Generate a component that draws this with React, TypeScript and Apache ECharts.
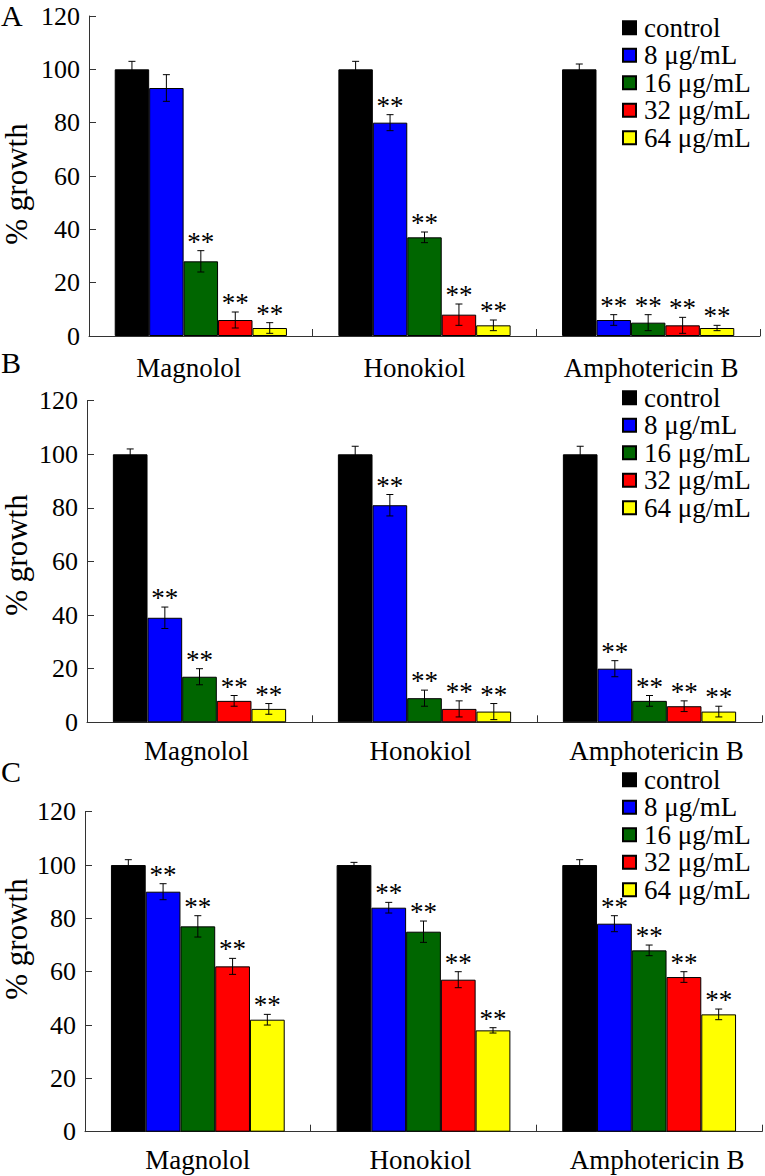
import React, { useEffect, useRef } from 'react';
import * as echarts from 'echarts';

const categories = ['Magnolol', 'Honokiol', 'Amphotericin B'];
const seriesNames = ['control', '8 μg/mL', '16 μg/mL', '32 μg/mL', '64 μg/mL'];
const seriesColors = ['#000000', '#0000FF', '#006600', '#FF0000', '#FFFF00'];
const yTicks = { min: 0, max: 120, interval: 20 };
const panelLetters = ['A', 'B', 'C'];

// Panel A: rows = series (control, 8, 16, 32, 64), columns = categories
const valuesA = [
  [100, 100, 100],
  [93, 80, 6],
  [28, 37, 5],
  [6, 8, 4],
  [3, 4, 3],
];
const errorsA = [
  [3, 3, 2],
  [5, 3, 2],
  [4, 2, 3],
  [3, 4, 3],
  [2, 2, 1],
];
const starsA = [
  [0, 0, 0],
  [0, 1, 1],
  [1, 1, 1],
  [1, 1, 1],
  [1, 1, 1],
];

// Panel B
const valuesB = [
  [100, 100, 100],
  [39, 81, 20],
  [17, 9, 8],
  [8, 5, 6],
  [5, 4, 4],
];
const errorsB = [
  [2, 3, 3],
  [4, 4, 3],
  [3, 3, 2],
  [2, 3, 2],
  [2, 3, 2],
];
const starsB = [
  [0, 0, 0],
  [1, 1, 1],
  [1, 1, 1],
  [1, 1, 1],
  [1, 1, 1],
];

// Panel C
const valuesC = [
  [100, 100, 100],
  [90, 84, 78],
  [77, 75, 68],
  [62, 57, 58],
  [42, 38, 44],
];
const errorsC = [
  [2, 1, 2],
  [3, 2, 3],
  [4, 4, 2],
  [3, 3, 2],
  [2, 1, 2],
];
const starsC = [
  [0, 0, 0],
  [1, 1, 1],
  [1, 1, 1],
  [1, 1, 1],
  [1, 1, 1],
];

const FONT = "'Liberation Serif', 'Times New Roman', serif";
const CAT_GAP = 0.23;
const AXIS_COLOR = '#333';

const grids = [
  { left: 89, right: 5, top: 16, height: 320 },
  { left: 87, right: 3, top: 400.7, height: 321.6 },
  { left: 85, right: 3, top: 811.7, height: 320 },
];
const legendTops = [14, 384, 766];
const nameCenters = [184, 555, 939];
const letterCenters = [15, 362, 771];
// horizontal shift of each category label from its category centre (px)
const labelShifts = [
  [-12, -10, 3],
  [-3, -4, 7],
  [0, -3, 8],
];

function buildOption() {
  const panels = [
    { v: valuesA, e: errorsA, s: starsA },
    { v: valuesB, e: errorsB, s: starsB },
    { v: valuesC, e: errorsC, s: starsC },
  ];
  const xAxis: any[] = [];
  const yAxis: any[] = [];
  const series: any[] = [];
  const legend: any[] = [];
  const graphic: any[] = [];

  panels.forEach((p, pi) => {
    const rich: any = {};
    labelShifts[pi].forEach((s, i) => {
      rich['l' + i] = {
        fontFamily: FONT,
        fontSize: 27,
        color: '#000',
        padding: s < 0 ? [0, -2 * s, 0, 0] : [0, 0, 0, 2 * s],
      };
    });
    xAxis.push({
      type: 'category',
      gridIndex: pi,
      data: categories,
      axisLine: { show: true, lineStyle: { color: AXIS_COLOR, width: 1 } },
      axisTick: { show: true, inside: true, length: 7, alignWithLabel: false, lineStyle: { color: AXIS_COLOR } },
      axisLabel: {
        interval: 0,
        fontFamily: FONT,
        fontSize: 27,
        color: '#000',
        margin: pi === 0 ? 18 : 15,
        formatter: (value: string, index: number) => '{l' + index + '|' + value + '}',
        rich,
      },
      splitLine: { show: false },
    });
    yAxis.push({
      type: 'value',
      gridIndex: pi,
      min: yTicks.min,
      max: yTicks.max,
      interval: yTicks.interval,
      axisLine: { show: true, lineStyle: { color: AXIS_COLOR, width: 1 } },
      axisTick: { show: true, inside: true, length: 7, lineStyle: { color: AXIS_COLOR } },
      axisLabel: { fontFamily: FONT, fontSize: 26, color: '#000', margin: 9 },
      splitLine: { show: false },
    });
    p.v.forEach((vals, si) => {
      series.push({
        type: 'bar',
        name: seriesNames[si],
        xAxisIndex: pi,
        yAxisIndex: pi,
        data: vals,
        barGap: '0%',
        barCategoryGap: CAT_GAP * 100 + '%',
        itemStyle: { color: seriesColors[si], borderColor: '#000', borderWidth: 1 },
        emphasis: { disabled: true },
      });
    });
    const errData: any[] = [];
    p.v.forEach((vals, si) => {
      vals.forEach((val, ci) => {
        errData.push([ci, val, p.e[si][ci], p.s[si][ci], si]);
      });
    });
    series.push({
      type: 'custom',
      name: 'err' + pi,
      xAxisIndex: pi,
      yAxisIndex: pi,
      z: 5,
      silent: true,
      encode: { x: 0, y: 1 },
      data: errData,
      renderItem: (params: any, api: any) => {
        const ci = api.value(0);
        const val = api.value(1);
        const err = api.value(2);
        const star = api.value(3);
        const si = api.value(4);
        const band = api.size([1, 0])[0];
        const group = band * (1 - CAT_GAP);
        const bw = group / 5;
        const c = api.coord([ci, 0]);
        const x = c[0] - group / 2 + bw * (si + 0.5);
        const yTop = api.coord([ci, val + err])[1];
        const yBot = api.coord([ci, val - err])[1];
        const cap = 3.5;
        const ls = { stroke: '#000', lineWidth: 1 };
        const children: any[] = [
          { type: 'line', shape: { x1: x, y1: yTop, x2: x, y2: yBot }, style: ls },
          { type: 'line', shape: { x1: x - cap, y1: yTop, x2: x + cap, y2: yTop }, style: ls },
          { type: 'line', shape: { x1: x - cap, y1: yBot, x2: x + cap, y2: yBot }, style: ls },
        ];
        if (star) {
          children.push({
            type: 'text',
            style: {
              text: '**',
              x: x,
              y: yTop - 9,
              align: 'center',
              verticalAlign: 'middle',
              fontFamily: FONT,
              fontSize: 27,
              fill: '#000',
            },
          });
        }
        return { type: 'group', children };
      },
    });
    legend.push({
      data: seriesNames,
      orient: 'vertical',
      left: 622,
      top: legendTops[pi],
      itemWidth: 13,
      itemHeight: 13,
      itemGap: 0,
      icon: 'rect',
      selectedMode: false,
      padding: 0,
      textStyle: { fontFamily: FONT, fontSize: 27, color: '#000', lineHeight: 27.5, padding: [0, 0, 0, 3] },
    });
    graphic.push({
      type: 'text',
      x: 16,
      y: nameCenters[pi],
      rotation: Math.PI / 2,
      style: {
        text: '% growth',
        textAlign: 'center',
        textVerticalAlign: 'middle',
        align: 'center',
        verticalAlign: 'middle',
        fontFamily: FONT,
        fontSize: 31,
        fill: '#000',
      },
    });
    graphic.push({
      type: 'text',
      x: 1,
      y: letterCenters[pi],
      style: {
        text: panelLetters[pi],
        textAlign: 'left',
        textVerticalAlign: 'middle',
        align: 'left',
        verticalAlign: 'middle',
        fontFamily: FONT,
        fontSize: 30,
        fill: '#000',
      },
    });
  });

  return {
    animation: false,
    backgroundColor: '#fff',
    grid: grids,
    xAxis,
    yAxis,
    series,
    legend,
    graphic,
  };
}

export default function App() {
  const ref = useRef<HTMLDivElement>(null);
  useEffect(() => {
    document.body.style.margin = '0';
    if (!ref.current) return;
    const chart = echarts.init(ref.current, null, { renderer: 'svg' });
    chart.setOption(buildOption() as any);
    return () => {
      chart.dispose();
    };
  }, []);
  return <div ref={ref} style={{ width: 765, height: 1176 }} />;
}
